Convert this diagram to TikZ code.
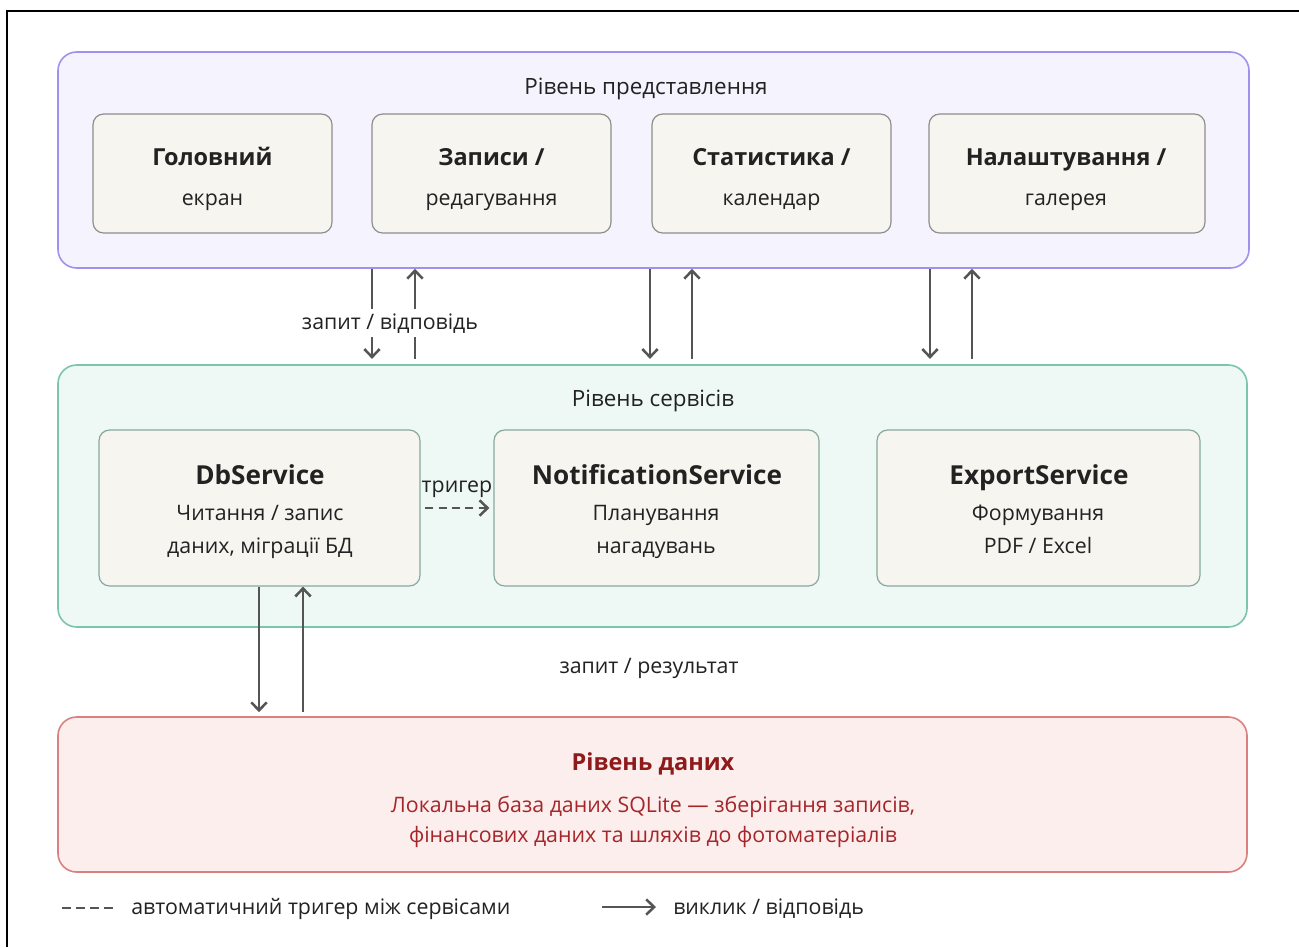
\documentclass[tikz,border=0pt]{standalone}
\usepackage{fontspec}
\setmainfont{Open Sans}
\usetikzlibrary{arrows.meta}

\definecolor{inkc}{HTML}{222222}
\definecolor{arrowc}{HTML}{555555}
\definecolor{presline}{HTML}{9D92EE}
\definecolor{presfill}{HTML}{F5F4FE}
\definecolor{servline}{HTML}{7DC4AE}
\definecolor{servfill}{HTML}{EEF8F5}
\definecolor{dataline}{HTML}{D98080}
\definecolor{datafill}{HTML}{FDEEEE}
\definecolor{cardfill}{HTML}{F6F5F0}
\definecolor{cardline}{HTML}{8E8E8E}
\definecolor{cardline2}{HTML}{88A99D}
\definecolor{datatitle}{HTML}{8E1A1A}
\definecolor{datatext}{HTML}{A5262A}

\begin{document}
\begin{tikzpicture}[x=0.75pt,y=-0.75pt,
  sz/.style 2 args={minimum width=#1*0.75pt, minimum height=#2*0.75pt},
  layer/.style={rounded corners=14pt, line width=1.2pt, inner sep=0pt},
  card/.style={rounded corners=8pt, line width=0.9pt, fill=cardfill, inner sep=0pt},
  txt/.style={inner sep=0pt, text=inkc, font=\fontsize{16}{19}\selectfont,
              text height=1.0em, text depth=0.1em},
  head/.style={txt, font=\fontsize{16.8}{19}\selectfont},
  ttl/.style={txt, font=\fontsize{17.6}{20}\selectfont\bfseries, text height=1.25em},
  sttl/.style={txt, font=\fontsize{19.6}{22}\selectfont\bfseries, text height=1.22em},
  arr/.style={draw=arrowc, line width=1.9pt, -{Straight Barb[length=6pt,width=11.5pt]}},
  dasharr/.style={arr, dash pattern=on 6pt off 4pt},
]
\useasboundingbox (0,0) rectangle (1299,947);
\fill[white] (0,0) rectangle (1299,947);
% outer frame (left and top edges)
\draw[line width=1.5pt] (7,947) -- (7,11) -- (1299,11);

% ---------- layers ----------
\node[layer, draw=presline, fill=presfill, sz={1191}{216}] (pres) at (653.5,160) {};
\node[layer, draw=servline, fill=servfill, sz={1189}{262}] (serv) at (652.5,496) {};
\node[layer, draw=dataline, fill=datafill, sz={1189}{155}] (data) at (652.5,794.5) {};

\node[head] (presT) at (646,88) {Рівень представлення};
\node[head] (servT) at (653,400) {Рівень сервісів};

% ---------- presentation cards ----------
\node[card, draw=cardline, sz={239}{119}] (b1) at (212.5,173.5) {};
\node[card, draw=cardline, sz={239}{119}] (b2) at (491.5,173.5) {};
\node[card, draw=cardline, sz={239}{119}] (b3) at (771.5,173.5) {};
\node[card, draw=cardline, sz={276}{119}] (b4) at (1067,173.5) {};

\node[ttl] (b1t) at (212.5,158) {Головний};
\node[txt] (b1s) at (212.5,199) {екран};
\node[ttl] (b2t) at (491.5,158) {Записи /};
\node[txt] (b2s) at (491.5,199) {редагування};
\node[ttl] (b3t) at (771.5,158) {Статистика /};
\node[txt] (b3s) at (771.5,199) {календар};
\node[ttl] (b4t) at (1066,158) {Налаштування /};
\node[txt] (b4s) at (1066,199) {галерея};

% ---------- service cards ----------
\node[card, draw=cardline2, sz={321}{156}] (s1) at (259.5,508) {};
\node[card, draw=cardline2, sz={325}{156}] (s2) at (656.5,508) {};
\node[card, draw=cardline2, sz={323}{156}] (s3) at (1038.5,508) {};

\node[sttl] (s1t) at (260,477) {DbService};
\node[txt] (s1a) at (260,514) {Читання / запис};
\node[txt] (s1b) at (260,547) {даних, міграції БД};
\node[sttl] (s2t) at (657,477) {NotificationService};
\node[txt] (s2a) at (656,514) {Планування};
\node[txt] (s2b) at (656,547) {нагадувань};
\node[sttl] (s3t) at (1039,477) {ExportService};
\node[txt] (s3a) at (1038,514) {Формування};
\node[txt] (s3b) at (1038,547) {PDF / Excel};

% ---------- data layer ----------
\node[ttl, text=datatitle] (dT) at (653,763) {Рівень даних};
\node[txt, text=datatext] (d1) at (653,806) {Локальна база даних SQLite — зберігання записів,};
\node[txt, text=datatext] (d2) at (653,836) {фінансових даних та шляхів до фотоматеріалів};

% ---------- presentation <-> services ----------
\draw[arr, shorten >=4pt] (372,0 |- pres.south) -- (372,0 |- serv.north);
\draw[arr, shorten <=4pt] (415,0 |- serv.north) -- (415,0 |- pres.south);
\draw[arr, shorten >=4pt] (650,0 |- pres.south) -- (650,0 |- serv.north);
\draw[arr, shorten <=4pt] (692,0 |- serv.north) -- (692,0 |- pres.south);
\draw[arr, shorten >=4pt] (930,0 |- pres.south) -- (930,0 |- serv.north);
\draw[arr, shorten <=4pt] (972,0 |- serv.north) -- (972,0 |- pres.south);
\node[txt, fill=white, inner xsep=3pt, inner ysep=5pt] (qa) at (390,323) {запит / відповідь};

% ---------- trigger between services ----------
\draw[dasharr, shorten <=3.5pt, shorten >=3pt] (s1.east) -- (s2.west);
\node[txt] (trig) at (457,486) {тригер};

% ---------- services <-> data ----------
\draw[arr, shorten >=3pt] (259,0 |- s1.south) -- (259,0 |- data.north);
\draw[arr, shorten <=3pt] (303,0 |- data.north) -- (303,0 |- s1.south);
\node[txt] (qr) at (649,667) {запит / результат};

% ---------- legend ----------
\coordinate (lgA) at (62,908);
\coordinate (lgB) at (113,908);
\coordinate (lgC) at (602,907);
\coordinate (lgD) at (656,907);
\draw[draw=arrowc, line width=1.9pt, dash pattern=on 7pt off 3.5pt] (lgA) -- (lgB);
\node[txt, anchor=west] (lg1) at (131,908) {автоматичний тригер між сервісами};
\draw[arr] (lgC) -- (lgD);
\node[txt, anchor=west] (lg2) at (673,908) {виклик / відповідь};
\end{tikzpicture}
\end{document}
